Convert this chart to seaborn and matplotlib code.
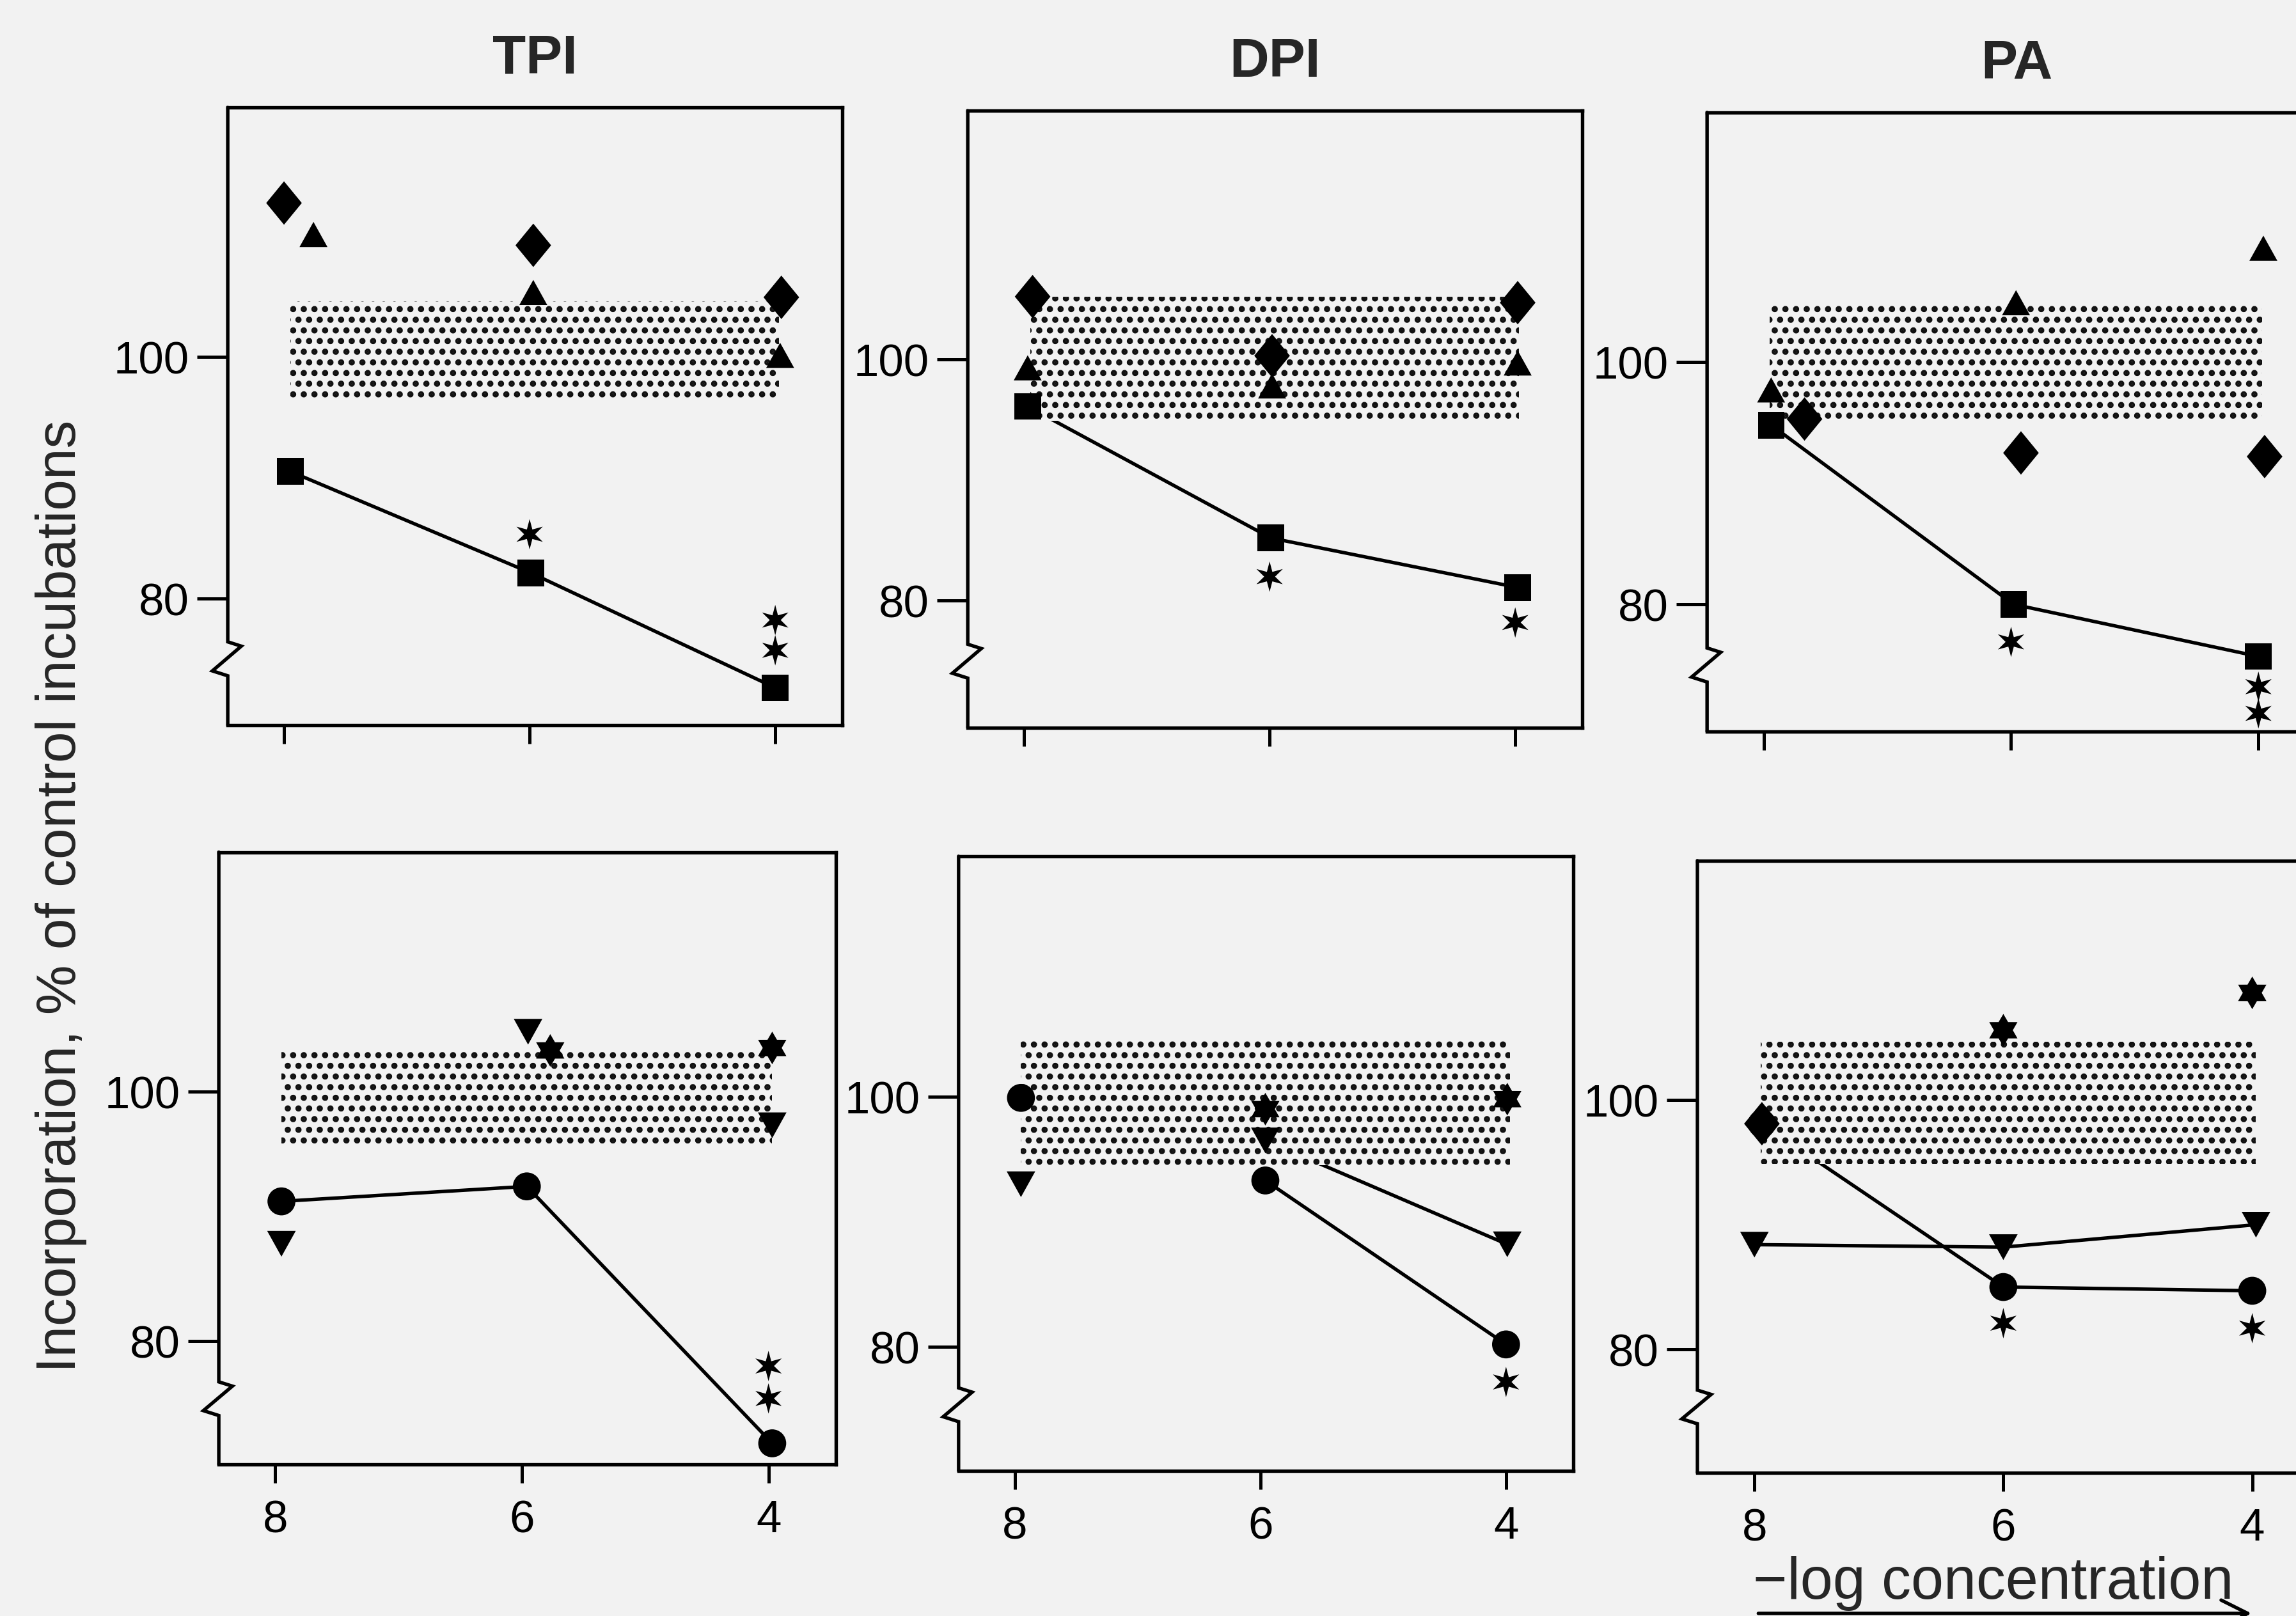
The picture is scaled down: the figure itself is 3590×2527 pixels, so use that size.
import numpy as np
import matplotlib
matplotlib.use("Agg")
import matplotlib.pyplot as plt
import seaborn as sns

# x = -log concentration, y = incorporation, % of control incubations
conc = [8, 6, 4]
lipids = ["TPI", "DPI", "PA"]

# upper panels, one inner list per lipid (TPI, DPI, PA)
up_diamond_x = [[8.0, 5.97, 3.95], [7.93, 5.98, 3.98], [7.67, 5.92, 3.95]]
up_diamond_y = [[112.7, 109.2, 104.9], [105.2, 100.3, 104.7], [95.3, 92.5, 92.2]]
up_triangle_x = [[7.76, 5.97, 3.96], [7.97, 5.98, 3.98], [7.94, 5.96, 3.96]]
up_triangle_y = [[110.1, 105.3, 100.1], [99.3, 97.8, 99.7], [97.7, 104.9, 109.4]]
up_square_x = [[7.95, 5.99, 4.0], [7.97, 5.99, 3.98], [7.94, 5.98, 4.0]]
up_square_y = [[90.5, 82.1, 72.6], [96.1, 85.2, 81.1], [94.8, 80.0, 75.7]]
up_signif_x = [[6, 4, 4], [6, 4], [6, 4, 4]]
up_signif_y = [[85.3, 78.2, 75.7], [82.0, 78.2], [76.9, 73.2, 71.0]]
up_band_lo = [96.5, 94.9, 95.1]
up_band_hi = [104.6, 105.2, 104.8]

# lower panels
lo_circle_x = [[7.95, 5.96, 3.97], [7.95, 5.96, 4.0], [7.94, 6.0, 4.0]]
lo_circle_y = [[91.2, 92.4, 71.8], [99.9, 93.3, 80.2], [98.1, 85.0, 84.7]]
lo_circle_join = [[1, 1, 1], [0, 1, 1], [1, 1, 1]]
lo_tridown_x = [[7.95, 5.95, 3.97], [7.95, 5.96, 3.99], [8.0, 6.0, 3.97]]
lo_tridown_y = [[87.8, 104.8, 97.3], [93.0, 96.5, 88.2], [88.4, 88.2, 90.0]]
lo_tridown_join = [[0, 0, 0], [0, 1, 1], [1, 1, 1]]
lo_hexstar_x = [[5.77, 3.97], [5.96, 3.99], [6.0, 4.0]]
lo_hexstar_y = [[103.3, 103.5], [99.0, 99.8], [105.6, 108.6]]
lo_diamond_x = [[], [], [7.94]]
lo_diamond_y = [[], [], [98.1]]
lo_signif_x = [[4, 4], [4], [6, 4]]
lo_signif_y = [[78.0, 75.4], [77.2], [82.1, 81.7]]
lo_band_lo = [95.6, 94.5, 94.9]
lo_band_hi = [103.5, 104.5, 104.7]

band_x = [7.95, 3.97]

bg = "#f2f2f2"
sns.set_style("ticks")
plt.rcParams["font.family"] = ["Liberation Sans", "DejaVu Sans"]
plt.rcParams["hatch.linewidth"] = 1.5

# marker shapes
diamond = np.array([[0, 1], [0.82, 0], [0, -1], [-0.82, 0], [0, 1]])
tri_up = np.array([[0, 0.9], [1, -0.9], [-1, -0.9], [0, 0.9]])
tri_down = np.array([[0, -0.9], [1, 0.9], [-1, 0.9], [0, -0.9]])


def star(inner):
    ang = np.pi / 2 + np.arange(12) * np.pi / 6
    r = np.where(np.arange(12) % 2 == 0, 1.0, inner)
    v = np.c_[r * np.cos(ang), r * np.sin(ang)]
    return np.vstack([v, v[:1]])


hexstar = star(0.58)
asterisk = star(0.36)

fig = plt.figure(figsize=(3590 / 300, 2528 / 300), dpi=300, facecolor=bg)

# panel rectangles (figure fractions), rows top then bottom
rects = [
    [[0.0992, 0.5510, 0.2677, 0.3821], [0.4215, 0.5496, 0.2677, 0.3815], [0.7435, 0.5471, 0.2696, 0.3829]],
    [[0.0953, 0.0937, 0.2688, 0.3788], [0.4175, 0.0898, 0.2677, 0.3801], [0.7393, 0.0886, 0.2713, 0.3786]],
]
ylims = [(69.5, 120.6), (70.1, 119.2)]


def pts(ax, xs, ys, marker, s):
    if len(xs) == 0:
        return
    sns.scatterplot(x=xs, y=ys, marker=marker, s=s, color="black",
                    edgecolor="none", linewidth=0, ax=ax, zorder=4)


def joined(ax, xs, ys, keep):
    xx = [x for x, k in zip(xs, keep) if k]
    yy = [y for y, k in zip(ys, keep) if k]
    if len(xx) > 1:
        sns.lineplot(x=xx, y=yy, color="black", linewidth=1.3, estimator=None,
                     ax=ax, zorder=2)


def frame(ax, row):
    ax.set_facecolor(bg)
    ax.set_xlim(8.458, 3.453)
    ax.set_ylim(*ylims[row])
    ax.set_xticks(conc)
    ax.set_yticks([80, 100])
    for side in ["top", "right", "bottom"]:
        ax.spines[side].set_visible(True)
        ax.spines[side].set_linewidth(1.3)
        ax.spines[side].set_color("black")
    ax.spines["left"].set_visible(False)
    # left edge with the axis break
    ax.plot([0, 0, 0.022, -0.025, 0, 0], [1, 0.135, 0.128, 0.088, 0.08, 0],
            transform=ax.transAxes, color="black", lw=1.3, clip_on=False,
            solid_joinstyle="miter", zorder=5)
    ax.tick_params(axis="y", direction="out", length=11.5, width=1.2, pad=3,
                   labelsize=17, left=True, colors="black")
    ax.tick_params(axis="x", direction="out", length=7, width=1.2, pad=6,
                   labelsize=17, bottom=True, labelbottom=(row == 1), colors="black")
    ax.set_xlabel("")
    ax.set_ylabel("")


for i, name in enumerate(lipids):
    # upper row
    ax = fig.add_axes(rects[0][i])
    joined(ax, up_square_x[i], up_square_y[i], [1, 1, 1])
    ax.fill_between(band_x, up_band_lo[i], up_band_hi[i], facecolor=bg,
                    edgecolor="#111111", hatch="...", linewidth=0, zorder=3)
    pts(ax, up_diamond_x[i], up_diamond_y[i], diamond, 266)
    pts(ax, up_triangle_x[i], up_triangle_y[i], tri_up, 110)
    pts(ax, up_square_x[i], up_square_y[i], "s", 100)
    pts(ax, up_signif_x[i], up_signif_y[i], asterisk, 130)
    frame(ax, 0)
    ax.set_title(name, fontsize=20.5, fontweight="bold", pad=13)

    # lower row
    ax = fig.add_axes(rects[1][i])
    joined(ax, lo_circle_x[i], lo_circle_y[i], lo_circle_join[i])
    joined(ax, lo_tridown_x[i], lo_tridown_y[i], lo_tridown_join[i])
    ax.fill_between(band_x, lo_band_lo[i], lo_band_hi[i], facecolor=bg,
                    edgecolor="#111111", hatch="...", linewidth=0, zorder=3)
    pts(ax, lo_circle_x[i], lo_circle_y[i], "o", 110)
    pts(ax, lo_tridown_x[i], lo_tridown_y[i], tri_down, 115)
    pts(ax, lo_hexstar_x[i], lo_hexstar_y[i], hexstar, 150)
    pts(ax, lo_diamond_x[i], lo_diamond_y[i], diamond, 266)
    pts(ax, lo_signif_x[i], lo_signif_y[i], asterisk, 130)
    frame(ax, 1)

fig.text(0.0267, 0.4458, "Incorporation, % of control incubations", rotation=90,
         ha="center", va="center", fontsize=21)
fig.text(0.7635, 0.011, "\u2212log concentration", ha="left", va="baseline", fontsize=22)
fig.add_artist(matplotlib.patches.FancyArrowPatch(
    (0.7635, 0.0016), (0.983, 0.0016), transform=fig.transFigure,
    arrowstyle="->", mutation_scale=25, color="black", lw=1.3))

fig.savefig("out.png", dpi=300, facecolor=bg)
